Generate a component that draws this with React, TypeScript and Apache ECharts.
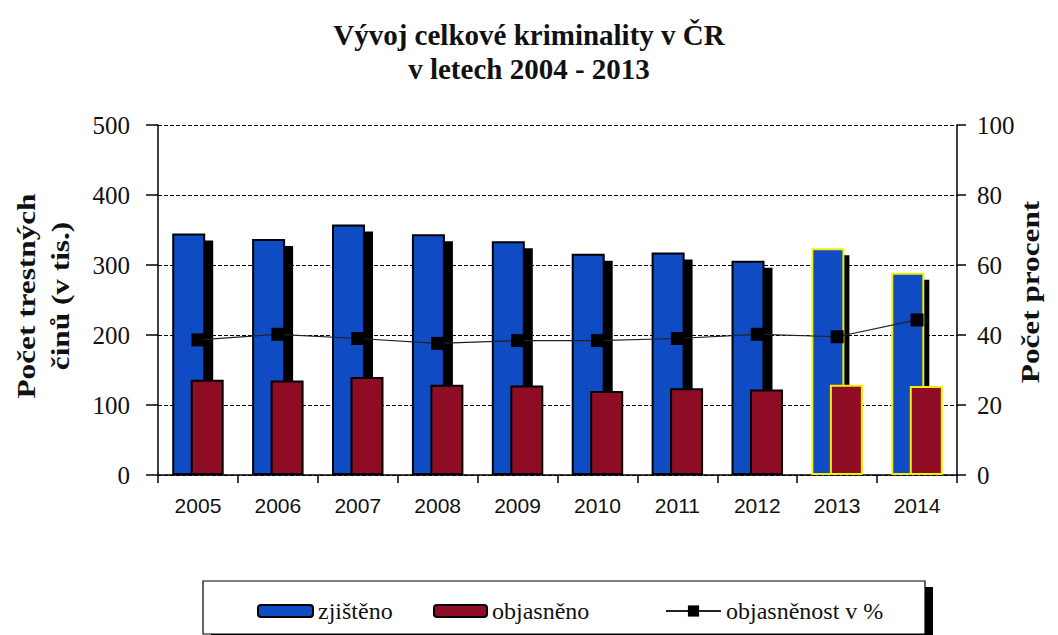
import React, { useEffect, useRef } from "react";
import * as echarts from "echarts";

const years = ["2005", "2006", "2007", "2008", "2009", "2010", "2011", "2012", "2013", "2014"];
const found = [345, 337, 358, 344, 334, 316, 318, 306, 324, 289];
const solved = [136, 135, 140, 129, 128, 120, 124, 122, 129, 127];
const clearance = [38.6, 40.2, 39.0, 37.6, 38.4, 38.4, 39.0, 40.2, 39.5, 44.3];
const highlighted = ["2013", "2014"];

const BLUE = "#0f4bc3";
const RED = "#8e0c24";
const YELLOW = "#f2f000";
const SERIF = "Liberation Serif";
const SANS = "Liberation Sans";

const BAR_W = 33;
const BLUE_OFFSET = -9.25; // blue bar centre relative to category centre (barGap -44%)

export default function App() {
  const ref = useRef<HTMLDivElement>(null);
  useEffect(() => {
    document.body.style.margin = "0";
    const chart = echarts.init(ref.current!, undefined, { renderer: "svg" });
    const blueData = found.map((v, i) => ({
      value: v,
      itemStyle: highlighted.includes(years[i]) ? { borderColor: YELLOW } : {},
    }));
    const redData = solved.map((v, i) => ({
      value: v,
      itemStyle: highlighted.includes(years[i]) ? { borderColor: YELLOW } : {},
    }));
    const legendText = { fontFamily: SERIF, fontSize: 24, color: "#111" };
    chart.setOption({
      animation: false,
      backgroundColor: "#ffffff",
      title: {
        text: "Vývoj celkové kriminality v ČR\nv letech 2004 - 2013",
        left: "center",
        top: 13,
        textStyle: {
          fontFamily: SERIF,
          fontWeight: "bold",
          fontSize: 29,
          lineHeight: 34,
          color: "#111",
        },
      },
      grid: { left: 158, right: 101, top: 125, bottom: 160, containLabel: false },
      legend: [
        { data: ["zjištěno"], left: 252, top: 594, itemWidth: 55, itemHeight: 12, textStyle: legendText },
        { data: ["objasněno"], left: 428, top: 594, itemWidth: 53, itemHeight: 12, textStyle: legendText },
        { data: ["objasněnost v %"], left: 660, top: 594, itemWidth: 55, itemHeight: 14, textStyle: legendText },
      ],
      xAxis: {
        type: "category",
        data: years,
        axisLine: { lineStyle: { color: "#000", width: 1.5 } },
        axisTick: { show: true, length: 8, lineStyle: { color: "#000", width: 1.5 } },
        axisLabel: { fontFamily: SANS, fontSize: 21, color: "#111", margin: 20 },
      },
      yAxis: [
        {
          type: "value",
          min: 0,
          max: 500,
          interval: 100,
          axisLine: { show: true, lineStyle: { color: "#000", width: 1.5 } },
          axisTick: { show: true, length: 12, lineStyle: { color: "#000", width: 1.5 } },
          axisLabel: { fontFamily: SERIF, fontSize: 25, color: "#111", margin: 28 },
          splitLine: { show: true, lineStyle: { color: "#000", type: [4, 2], width: 1 } },
        },
        {
          type: "value",
          min: 0,
          max: 100,
          interval: 20,
          position: "right",
          axisLine: { show: true, lineStyle: { color: "#000", width: 1.5 } },
          axisTick: { show: true, length: 9, lineStyle: { color: "#000", width: 1.5 } },
          axisLabel: { fontFamily: SERIF, fontSize: 25, color: "#111", margin: 20 },
          splitLine: { show: false },
        },
      ],
      series: [
        {
          name: "shadow",
          type: "custom",
          data: found.map((v, i) => [i, v]),
          z: 1,
          silent: true,
          renderItem: (params: any, api: any) => {
            const idx = api.value(0);
            const top = api.coord([idx, api.value(1)]);
            const base = api.coord([idx, 0]);
            const hl = highlighted.includes(years[idx]);
            const dx = hl ? 7 : 8;
            const w = hl ? BAR_W - 2 : BAR_W;
            const left = top[0] + BLUE_OFFSET - BAR_W / 2 + dx;
            return {
              type: "rect",
              shape: { x: left, y: top[1] + 7, width: w, height: base[1] - top[1] - 7 },
              style: { fill: "#000" },
            };
          },
        },
        {
          name: "zjištěno",
          type: "bar",
          data: blueData,
          barWidth: BAR_W,
          barGap: "-44%",
          itemStyle: { color: BLUE, borderColor: "#000", borderWidth: 2 },
          z: 2,
        },
        {
          name: "objasněno",
          type: "bar",
          data: redData,
          barWidth: BAR_W,
          itemStyle: { color: RED, borderColor: "#000", borderWidth: 2 },
          z: 3,
        },
        {
          name: "objasněnost v %",
          type: "line",
          yAxisIndex: 1,
          data: clearance,
          symbol: "rect",
          symbolSize: 13,
          itemStyle: { color: "#000" },
          lineStyle: { color: "#222", width: 1.2 },
          z: 5,
        },
      ],
      graphic: [
        {
          type: "rect",
          z: -2,
          shape: { x: 211, y: 587, width: 722, height: 53 },
          style: { fill: "#000" },
        },
        {
          type: "rect",
          z: -1,
          shape: { x: 203, y: 581, width: 722, height: 53 },
          style: { fill: "#fff", stroke: "#000", lineWidth: 1.2 },
        },
        {
          type: "text",
          x: 44,
          y: 296,
          rotation: Math.PI / 2,
          scaleX: 1.25,
          style: {
            text: "Počet trestných\nčinů (v tis.)",
            fontFamily: SERIF,
            fontWeight: "bold",
            fontSize: 25,
            lineHeight: 34,
            fill: "#111",
            align: "center",
            verticalAlign: "middle",
          },
        },
        {
          type: "text",
          x: 1031,
          y: 292,
          rotation: Math.PI / 2,
          scaleX: 1.25,
          style: {
            text: "Počet procent",
            fontFamily: SERIF,
            fontWeight: "bold",
            fontSize: 25,
            fill: "#111",
            align: "center",
            verticalAlign: "middle",
          },
        },
      ],
    });
    return () => chart.dispose();
  }, []);
  return <div ref={ref} style={{ width: 1058, height: 635 }} />;
}
